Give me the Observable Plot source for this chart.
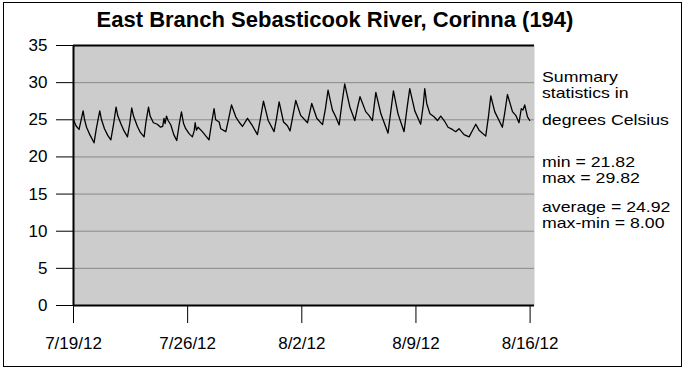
<!DOCTYPE html>
<html>
<head>
<meta charset="utf-8">
<script src="https://cdn.jsdelivr.net/npm/d3@7"></script>
<script src="https://cdn.jsdelivr.net/npm/@observablehq/plot@0.6"></script>
<style>
  html, body { margin: 0; padding: 0; background: #fff; }
  #wrap { position: relative; width: 683px; height: 368px; font-family: "Liberation Sans", Arial, sans-serif; color: #000; }
  #border { position: absolute; left: 3px; top: 2px; width: 677px; height: 363px; border: 1px solid #000; pointer-events: none; }
  #title { position: absolute; left: 0; width: 670px; top: 8px; text-align: center; font-weight: bold; font-size: 22px; line-height: 24px; white-space: nowrap; }
  .stat { position: absolute; left: 542px; font-size: 15px; line-height: 16px; white-space: nowrap; transform: scaleX(1.18); transform-origin: 0 0; }
  #chart { position: absolute; left: 0; top: 0; }
</style>
</head>
<body>
<div id="wrap">
  <div id="chart"></div>
  <div id="title">East Branch Sebasticook River, Corinna (194)</div>
  <div class="stat" style="top:68.5px">Summary</div>
  <div class="stat" style="top:84.5px">statistics in</div>
  <div class="stat" style="top:111.5px">degrees Celsius</div>
  <div class="stat" style="top:153.5px">min = 21.82</div>
  <div class="stat" style="top:169.5px">max = 29.82</div>
  <div class="stat" style="top:199px">average = 24.92</div>
  <div class="stat" style="top:215px">max-min = 8.00</div>
  <div id="border"></div>
</div>
<script>
// Day offsets from 7/19/12 00:00 and water temperature (°C)
const dayOffsets = [
  0.00, 0.15, 0.34, 0.45, 0.59, 0.68, 0.80, 1.00, 1.26, 1.40, 1.61, 1.72, 1.90, 2.10, 2.29, 2.45, 2.61, 2.72, 2.90, 3.10,
  3.31, 3.45, 3.57, 3.68, 3.92, 4.10, 4.33, 4.45, 4.60, 4.70, 4.90, 5.14, 5.34, 5.47, 5.55, 5.62, 5.70, 5.80, 5.97, 6.15,
  6.33, 6.47, 6.62, 6.75, 6.88, 7.10, 7.29, 7.40, 7.46, 7.54, 7.64, 7.90, 8.31, 8.45, 8.62, 8.72, 8.93, 9.03, 9.34, 9.50,
  9.69, 9.95, 10.15, 10.36, 10.67, 10.97, 11.28, 11.45, 11.65, 11.94, 12.30, 12.45, 12.61, 12.88, 13.12, 13.28, 13.45, 13.63, 13.93, 14.35,
  14.47, 14.61, 14.92, 15.27, 15.45, 15.61, 15.88, 16.08, 16.29, 16.45, 16.63, 16.95, 17.25, 17.40, 17.57, 17.92, 18.12, 18.33, 18.54, 18.85,
  19.29, 19.45, 19.62, 19.90, 20.27, 20.45, 20.62, 20.93, 21.29, 21.45, 21.54, 21.66, 21.86, 22.11, 22.32, 22.52, 22.73, 22.97, 23.23, 23.44,
  23.64, 23.95, 24.26, 24.45, 24.67, 24.87, 25.28, 25.45, 25.59, 25.83, 26.30, 26.45, 26.61, 26.92, 27.12, 27.32, 27.46, 27.56, 27.67, 27.84,
  27.98
];
const temps = [
  25.0, 24.2, 23.7, 24.8, 26.2, 25.0, 24.0, 23.0, 21.9, 23.8, 26.2, 25.0, 23.8, 22.9, 22.3, 24.3, 26.7, 25.5, 24.5, 23.5,
  22.7, 24.5, 26.6, 25.5, 24.1, 23.3, 22.7, 24.8, 26.7, 25.5, 24.6, 24.4, 24.0, 24.1, 25.2, 24.5, 25.5, 24.9, 24.3, 23.0,
  22.2, 24.2, 26.05, 24.5, 23.8, 23.1, 22.7, 23.5, 24.6, 23.6, 24.0, 23.4, 22.3, 24.3, 26.5, 25.0, 24.7, 23.8, 23.4, 25.0,
  27.0, 25.4, 24.7, 24.1, 25.2, 24.2, 23.0, 25.0, 27.5, 24.9, 23.4, 25.2, 27.4, 24.7, 24.2, 23.5, 25.5, 27.6, 25.6, 24.6,
  25.8, 27.2, 25.2, 24.35, 26.5, 29.0, 26.3, 25.4, 24.3, 27.0, 29.82, 26.7, 24.9, 26.5, 28.1, 26.1, 25.6, 24.9, 28.7, 25.8,
  23.2, 26.0, 28.9, 25.8, 23.4, 26.5, 29.2, 26.2, 24.4, 27.0, 29.2, 27.2, 25.8, 25.4, 24.9, 25.5, 24.9, 24.0, 23.7, 23.4,
  23.8, 23.0, 22.7, 23.5, 24.4, 23.6, 22.8, 25.5, 28.2, 26.1, 24.0, 26.0, 28.4, 26.1, 25.6, 24.6, 26.5, 26.3, 27.0, 25.4,
  24.9
];
const xTickLabels = ["7/19/12", "7/26/12", "8/2/12", "8/9/12", "8/16/12"];
const yTicks = [0, 5, 10, 15, 20, 25, 30, 35];
const gridValues = [5, 10, 15, 20, 25, 30];

const parse = d3.timeParse("%m/%d/%y");
const start = parse("07/19/12");
const xTicks = xTickLabels.map(s => { const [m, d, y] = s.split("/"); return new Date(2000 + +y, +m - 1, +d); });
const xEnd = new Date(xTicks[xTicks.length - 1].getTime() + 0.27 * 864e5);
const data = dayOffsets.map((d, i) => ({ t: new Date(start.getTime() + d * 864e5), v: temps[i] }));

const chart = Plot.plot({
  width: 683,
  height: 368,
  marginLeft: 73,
  marginRight: 149,
  marginTop: 45,
  marginBottom: 63,
  style: { fontFamily: "'Liberation Sans', Arial, sans-serif", fontSize: "17px", color: "#000", background: "transparent" },
  x: { type: "time", domain: [start, xEnd], label: null },
  y: { domain: [0, 35], label: null },
  marks: [
    Plot.frame({ fill: "#cccccc", stroke: null }),
    Plot.ruleY(gridValues, { stroke: "#8a8a8a", strokeWidth: 1 }),
    Plot.axisY({ ticks: yTicks, tickSize: 17, tickPadding: 9, tickFormat: d => String(d), label: null, stroke: "#000", strokeOpacity: 1 }),
    Plot.axisX({ ticks: xTicks, tickSize: 18, tickPadding: 13, tickFormat: d3.timeFormat("%-m/%-d/%y"), label: null, stroke: "#000", strokeOpacity: 1 }),
    Plot.line(data, { x: "t", y: "v", stroke: "#000", strokeWidth: 1.3 }),
    Plot.ruleY([35], { stroke: "#000", strokeWidth: 2 }),
    Plot.ruleY([0], { stroke: "#000", strokeWidth: 2 }),
    Plot.ruleX([start], { stroke: "#000", strokeWidth: 2 })
  ]
});
document.getElementById("chart").appendChild(chart);
</script>
</body>
</html>
